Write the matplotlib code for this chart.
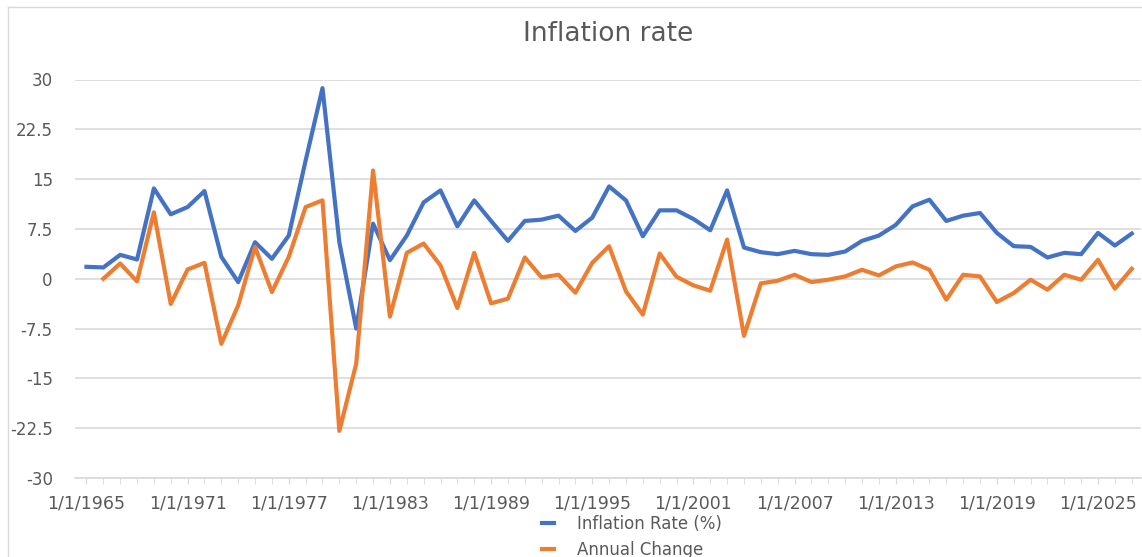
import matplotlib
matplotlib.use("Agg")
import matplotlib.pyplot as plt
import numpy as np
from matplotlib.ticker import MultipleLocator

plt.rcParams['font.family'] = ['Liberation Sans Narrow', 'DejaVu Sans']

# yearly values (1965 - 2027)
years = list(range(1965, 2028))
inflation_rate = [1.8, 1.7, 3.6, 2.9, 13.6, 9.7, 10.8, 13.2, 3.3, -0.5,
                  5.5, 3.0, 6.5, 17.8, 28.7, 5.5, -7.5, 8.3, 2.8, 6.5,
                  11.5, 13.3, 7.9, 11.8, 8.7, 5.7, 8.7, 8.9, 9.5, 7.2,
                  9.2, 13.9, 11.8, 6.4, 10.3, 10.3, 9.0, 7.3, 13.3, 4.7,
                  4.0, 3.7, 4.2, 3.7, 3.6, 4.1, 5.7, 6.5, 8.1, 10.9,
                  11.9, 8.7, 9.5, 9.9, 6.9, 4.9, 4.8, 3.2, 3.9, 3.7,
                  6.9, 5.0, 6.8]
change_years = years[1:]
annual_change = [0.0, 2.3, -0.4, 10.0, -3.8, 1.4, 2.4, -9.8, -4.0, 4.8,
                 -2.0, 3.3, 10.8, 11.8, -22.9, -12.8, 16.3, -5.7, 3.9, 5.3,
                 2.0, -4.4, 3.9, -3.7, -3.0, 3.2, 0.2, 0.6, -2.1, 2.4,
                 4.9, -1.9, -5.4, 3.8, 0.3, -1.0, -1.8, 5.9, -8.6, -0.7,
                 -0.3, 0.6, -0.5, -0.15, 0.35, 1.35, 0.5, 1.85, 2.45, 1.35,
                 -3.15, 0.6, 0.35, -3.5, -2.15, -0.15, -1.65, 0.6, -0.15, 2.85,
                 -1.5, 1.5]
label_years = list(range(1965, 2026, 6))
y_ticks = [-30, -22.5, -15, -7.5, 0, 7.5, 15, 22.5, 30]

txt = '#595959'
fig = plt.figure(figsize=(11.42, 5.57), dpi=100)
ax = fig.add_axes([75 / 1142, 79 / 557, 1066 / 1142, 398.5 / 557])

ax.plot(years, inflation_rate, color='#4472C4', lw=3, label='Inflation Rate (%)',
        solid_joinstyle='round', zorder=3)
ax.plot(change_years, annual_change, color='#ED7D31', lw=3, label='Annual Change',
        solid_joinstyle='round', zorder=3)

ax.set_xlim(1964.32, 2027.55)
ax.set_ylim(-30, 30)
ax.set_yticks(y_ticks)
ax.set_yticklabels([('%g' % v) for v in y_ticks])
ax.set_xticks(label_years)
ax.set_xticklabels(['1/1/%d' % y for y in label_years])
ax.xaxis.set_minor_locator(MultipleLocator(1))

ax.grid(axis='y', color='#d9d9d9', lw=1.2)
ax.set_axisbelow(True)
for s in ['top', 'right', 'left']:
    ax.spines[s].set_visible(False)
ax.spines['bottom'].set_color('#d9d9d9')
ax.spines['bottom'].set_linewidth(1.2)
ax.tick_params(axis='y', length=0, pad=16, labelsize=12, labelcolor=txt)
ax.tick_params(axis='x', which='major', length=4, color='#d9d9d9', pad=8,
               labelsize=12.5, labelcolor=txt)
ax.tick_params(axis='x', which='minor', length=4, color='#d9d9d9')

fig.text(608 / 1142, 1 - 34 / 557, 'Inflation rate', ha='center', va='center',
         fontsize=19, color=txt)

fig.legend(loc='center', bbox_to_anchor=(632 / 1142, 1 - 537 / 557), ncol=1,
           frameon=False, fontsize=12, labelcolor=txt, handlelength=0.7,
           handletextpad=1.4, labelspacing=0.5, borderpad=0)

# chart border lines
fig.add_artist(plt.Line2D([8 / 1142, 8 / 1142], [0, 1 - 7 / 557], color='#d9d9d9', lw=1))
fig.add_artist(plt.Line2D([8 / 1142, 1], [1 - 7 / 557, 1 - 7 / 557], color='#d9d9d9', lw=1))

fig.savefig('out.png', dpi=100, facecolor='white')
